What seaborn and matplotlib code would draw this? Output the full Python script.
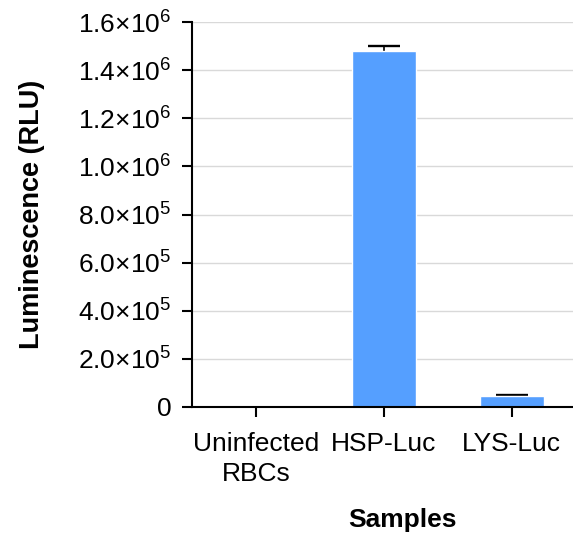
import matplotlib
matplotlib.use("Agg")
import matplotlib.pyplot as plt
import seaborn as sns
import pandas as pd
from matplotlib.ticker import FixedLocator

# Luminescence readings per sample (RLU) with SEM
samples = ["Uninfected\nRBCs", "HSP-Luc", "LYS-Luc"]
luminescence = [500, 1480000, 47000]
sem = [0, 20000, 1500]
y_ticks = [0, 200000, 400000, 600000, 800000, 1000000, 1200000, 1400000, 1600000]
y_tick_labels = ["0", "2.0×10$^{5}$", "4.0×10$^{5}$", "6.0×10$^{5}$", "8.0×10$^{5}$",
                 "1.0×10$^{6}$", "1.2×10$^{6}$", "1.4×10$^{6}$", "1.6×10$^{6}$"]

sns.set_style("white")
plt.rcParams["font.family"] = ["Liberation Sans", "DejaVu Sans"]
plt.rcParams["mathtext.fontset"] = "custom"
plt.rcParams["mathtext.rm"] = "Liberation Sans"
plt.rcParams["mathtext.it"] = "Liberation Sans"
plt.rcParams["text.color"] = "black"
plt.rcParams["axes.labelcolor"] = "black"
plt.rcParams["xtick.color"] = "black"
plt.rcParams["ytick.color"] = "black"

df = pd.DataFrame({"Sample": samples, "RLU": luminescence, "SEM": sem})

fig = plt.figure(figsize=(5.73, 5.37), dpi=100)
ax = fig.add_axes([192 / 573, 1 - 407 / 537, 1 - 192 / 573, (407 - 22) / 537])

sns.barplot(data=df, x="Sample", y="RLU", color="#559FFF", width=0.5,
            saturation=1, errorbar=None, ax=ax, zorder=2)

# error bars sit behind the bars so only the upper half shows
xs = [i for i, e in enumerate(sem) if e > 0]
ax.errorbar(xs, [luminescence[i] for i in xs], yerr=[sem[i] for i in xs],
            fmt="none", ecolor="black", elinewidth=1.2, capsize=11.5, capthick=1.7,
            zorder=1.5)

ax.set_ylim(0, 1600000)
ax.set_xlim(-0.5, 2.48)
ax.yaxis.set_major_locator(FixedLocator(y_ticks))
ax.set_yticklabels(y_tick_labels)
ax.yaxis.grid(True, color="#d9d9d9", linewidth=1)
ax.set_axisbelow(True)

for side in ["top", "right"]:
    ax.spines[side].set_visible(False)
for side in ["left", "bottom"]:
    ax.spines[side].set_color("black")
    ax.spines[side].set_linewidth(1.5)

ax.tick_params(axis="both", direction="out", length=7.2, width=1.5,
               labelsize=19, left=True, bottom=True)
ax.tick_params(axis="y", pad=7.5)
ax.tick_params(axis="x", pad=11)
for lbl in ax.get_xticklabels():
    lbl.set_linespacing(1.3)

ax.set_xlabel("Samples", fontsize=19, fontweight="bold")
ax.set_ylabel("Luminescence (RLU)", fontsize=19.5, fontweight="bold")
ax.xaxis.set_label_coords((402 - 192) / (573 - 192), -(508 - 407) / (407 - 22))
ax.yaxis.set_label_coords(-(192 - 45) / (573 - 192), 0.5)

fig.savefig("out.png", dpi=100)
